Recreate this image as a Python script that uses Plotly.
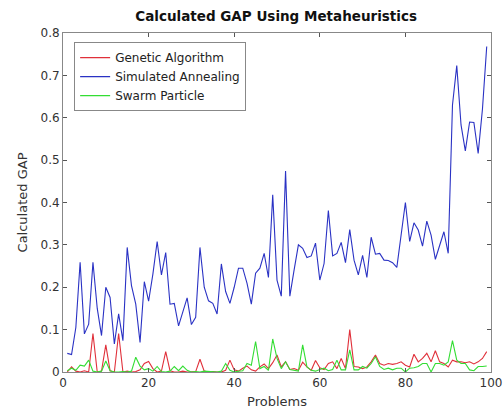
import plotly.graph_objects as go

problems = list(range(1, 100))

genetic = [0.0, 0.012, 0.002, 0.0, 0.003, 0.0, 0.091, 0.0, 0.002, 0.064,
           0.003, 0.0, 0.091, 0.0, 0.002, 0.0, 0.001, 0.005, 0.02, 0.025,
           0.008, 0.0, 0.002, 0.048, 0.003, 0.0, 0.0, 0.002, 0.0, 0.0,
           0.001, 0.03, 0.002, 0.0, 0.001, 0.0, 0.0, 0.004, 0.028, 0.005,
           0.002, 0.009, 0.014, 0.005, 0.002, 0.012, 0.019, 0.008, 0.022, 0.040,
           0.012, 0.024, 0.006, 0.008, 0.004, 0.023, 0.012, 0.004, 0.027, 0.01,
           0.006, 0.02, 0.024, 0.008, 0.032, 0.008, 0.1, 0.013, 0.012, 0.008,
           0.012, 0.024, 0.04, 0.02, 0.016, 0.02, 0.018, 0.02, 0.024, 0.016,
           0.012, 0.042, 0.024, 0.032, 0.044, 0.024, 0.05, 0.024, 0.02, 0.012,
           0.028, 0.024, 0.024, 0.022, 0.024, 0.019, 0.024, 0.032, 0.048]

annealing = [0.044, 0.041, 0.105, 0.259, 0.09, 0.113, 0.259, 0.15, 0.086, 0.20,
             0.176, 0.066, 0.137, 0.074, 0.294, 0.204, 0.16, 0.07, 0.213, 0.167,
             0.231, 0.308, 0.229, 0.282, 0.16, 0.162, 0.109, 0.14, 0.175, 0.112,
             0.129, 0.294, 0.20, 0.168, 0.162, 0.137, 0.255, 0.19, 0.162, 0.20,
             0.245, 0.245, 0.209, 0.16, 0.233, 0.245, 0.28, 0.223, 0.418, 0.217,
             0.179, 0.474, 0.179, 0.241, 0.30, 0.292, 0.27, 0.274, 0.304, 0.217,
             0.256, 0.381, 0.274, 0.28, 0.306, 0.258, 0.336, 0.264, 0.229, 0.275,
             0.223, 0.318, 0.278, 0.28, 0.264, 0.263, 0.258, 0.247, 0.32, 0.40,
             0.308, 0.352, 0.335, 0.297, 0.356, 0.323, 0.266, 0.297, 0.331, 0.28,
             0.63, 0.723, 0.583, 0.522, 0.59, 0.589, 0.516, 0.62, 0.768]

swarm = [0.003, 0.009, 0.004, 0.016, 0.014, 0.028, 0.002, 0.0, 0.002, 0.026,
         0.003, 0.0, 0.0, 0.001, 0.0, 0.002, 0.035, 0.014, 0.005, 0.008,
         0.002, 0.013, 0.001, 0.0, 0.002, 0.013, 0.003, 0.014, 0.004, 0.0,
         0.001, 0.0, 0.002, 0.001, 0.0, 0.0, 0.002, 0.02, 0.004, 0.0,
         0.002, 0.003, 0.02, 0.016, 0.072, 0.008, 0.013, 0.004, 0.078, 0.032,
         0.008, 0.024, 0.006, 0.004, 0.002, 0.064, 0.012, 0.004, 0.002, 0.006,
         0.009, 0.003, 0.006, 0.028, 0.005, 0.005, 0.052, 0.005, 0.005, 0.013,
         0.009, 0.02, 0.036, 0.013, 0.006, 0.009, 0.005, 0.009, 0.009, 0.0,
         0.009, 0.01, 0.013, 0.02, 0.02, 0.0, 0.02, 0.02, 0.016, 0.024,
         0.074, 0.028, 0.02, 0.02, 0.005, 0.003, 0.013, 0.013, 0.014]

x_ticks = [0, 20, 40, 60, 80, 100]
y_ticks = [0, 0.1, 0.2, 0.3, 0.4, 0.5, 0.6, 0.7, 0.8]

fig = go.Figure()
fig.add_trace(go.Scatter(x=problems, y=genetic, mode="lines", name="Genetic Algorithm",
                         line=dict(color="#e0303a", width=1.1)))
fig.add_trace(go.Scatter(x=problems, y=annealing, mode="lines", name="Simulated Annealing",
                         line=dict(color="#2a32c4", width=1.1)))
fig.add_trace(go.Scatter(x=problems, y=swarm, mode="lines", name="Swarm Particle",
                         line=dict(color="#33dd33", width=1.1)))

axis_common = dict(showline=True, linecolor="#888888", linewidth=1, mirror="allticks",
                   ticks="inside", ticklen=4, tickcolor="#555555", showgrid=False,
                   zeroline=False, automargin=False,
                   tickfont=dict(size=12, color="#333333"))

fig.update_layout(
    width=503, height=410,
    margin=dict(l=63, r=12, t=33, b=38),
    paper_bgcolor="white", plot_bgcolor="white",
    font=dict(family="DejaVu Sans", color="#333333"),
    title=dict(text="<b>Calculated GAP Using Metaheuristics</b>", x=0.549, xanchor="center",
               y=0.972, yanchor="top", font=dict(size=13.5, color="#111111"),
               automargin=False),
    xaxis=dict(range=[0, 100], tickvals=x_ticks, title=dict(text="Problems", standoff=7,
               font=dict(size=13)), **axis_common),
    yaxis=dict(range=[0, 0.8], tickvals=y_ticks, title=dict(text="Calculated GAP", standoff=9,
               font=dict(size=13)), **axis_common),
    legend=dict(x=0.026, y=0.973, xanchor="left", yanchor="top", bgcolor="white",
                bordercolor="#888888", borderwidth=1, font=dict(size=12, color="#222222"),
                tracegroupgap=0, itemwidth=30),
    showlegend=True,
)

fig.write_html("out.html", config={"displayModeBar": False},
               post_script="document.body.style.margin='0';document.body.style.overflow='hidden';")
